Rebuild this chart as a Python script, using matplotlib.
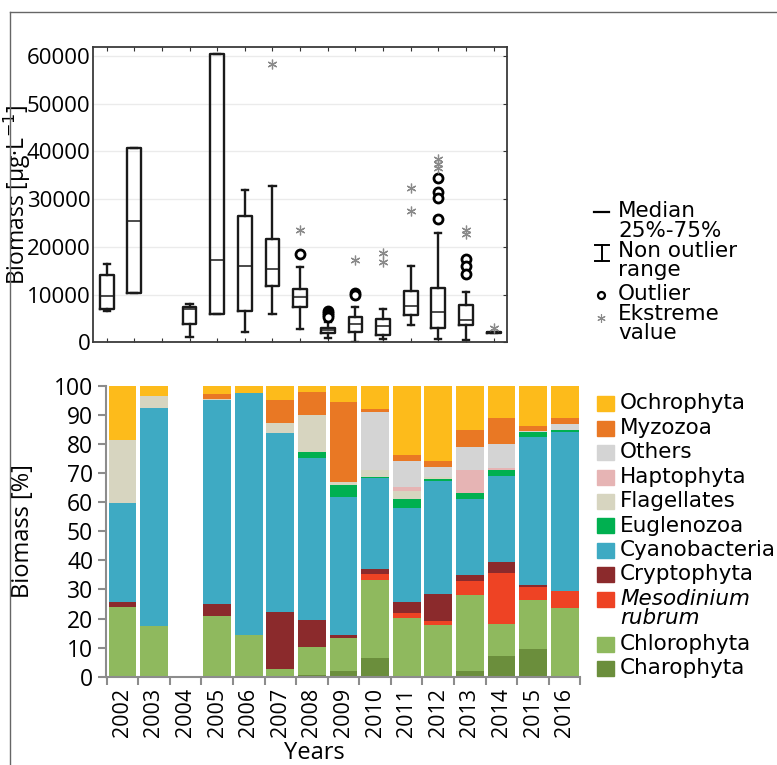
import matplotlib
matplotlib.use("Agg")
import numpy as np
from matplotlib import pyplot as plt
from matplotlib.lines import Line2D
from matplotlib.patches import Rectangle

plt.rcParams["font.family"] = ["Open Sans", "DejaVu Sans"]

W, H = 777, 765
FS = 17


def px(x, y):
    # pixel position (from top-left) -> figure fraction
    return x / W, 1 - y / H


years = [str(y) for y in range(2002, 2017)]

# %% box plot data, biomass in ug/L (None = no sampling)
box_q1 = [6900, 10300, None, 3800, 5900, 6600, 11800, 7500, 1900, 2100, 1500, 5700, 3100, 3600, 1900]
box_med = [9800, 25500, None, 7000, 17200, 16000, 15300, 9400, 2600, 3800, 3400, 7600, 6400, 4700, 2000]
box_q3 = [14200, 40700, None, 7500, 60300, 26500, 21600, 11100, 3100, 5200, 4900, 10700, 11400, 7800, 2100]
box_lo = [6600, 10300, None, 1200, 5900, 2100, 5900, 2700, 1000, 100, 600, 3600, 600, 500, 1900]
box_hi = [16400, 40700, None, 8000, 60300, 31900, 32700, 15800, 4300, 7500, 7000, 16000, 22800, 10500, 2100]
outliers = [[], [], [], [], [], [], [], [18500], [6500, 6100, 5700, 5300], [10300, 9900], [], [],
            [34300, 31500, 30300, 25800], [17400, 16000, 14400], []]
extremes = [[], [], [], [], [], [], [58300], [23500], [], [17200], [18700, 16800], [32400, 27500],
            [38400, 37400, 36400], [23500, 22600], [2900]]

# %% stacked composition data [%], bottom to top
groups = ["Charophyta", "Chlorophyta", "Mesodinium\nrubrum", "Cryptophyta", "Cyanobacteria", "Euglenozoa",
          "Flagellates", "Haptophyta", "Others", "Myzozoa", "Ochrophyta"]
colors = ["#6b8e3c", "#8fb95e", "#ee4324", "#8b2a2c", "#3eaac3", "#00b050",
          "#d7d5c0", "#e6b4b4", "#d4d4d4", "#e97824", "#fdbb1b"]
charophyta = [0, 0, 0, 0, 0, 0, 0.6, 1.9, 6.5, 0, 0, 1.9, 7.1, 9.4, 0]
chlorophyta = [24.0, 17.4, 0, 20.8, 14.2, 2.5, 9.7, 11.3, 26.7, 20.3, 17.8, 26.2, 10.9, 16.9, 23.7]
mesodinium = [0, 0, 0, 0, 0, 0, 0, 0, 2.1, 1.7, 1.3, 4.9, 17.5, 4.6, 5.7]
cryptophyta = [1.8, 0, 0, 4.1, 0, 19.6, 9.2, 1.1, 1.6, 3.8, 9.3, 2.1, 3.8, 0.6, 0]
cyanobacteria = [33.8, 75.0, 0, 70.2, 83.2, 61.5, 55.5, 47.6, 31.3, 32.3, 38.8, 26.0, 29.7, 51.0, 54.8]
euglenozoa = [0, 0, 0, 0, 0, 0, 2.3, 4.0, 0.3, 2.8, 0.8, 1.9, 2.2, 1.5, 0.6]
flagellates = [21.7, 4.2, 0, 0.5, 0, 3.5, 12.8, 0.9, 2.7, 3.0, 0.5, 0, 0, 0, 0]
haptophyta = [0, 0, 0, 0, 0, 0, 0, 0, 0, 1.2, 0, 8.0, 0.5, 0, 0]
others = [0, 0, 0, 0, 0, 0, 0, 0, 19.9, 9.1, 3.7, 8.0, 8.1, 0.4, 1.9]
myzozoa = [0, 0, 0, 1.4, 0, 8.0, 7.6, 27.7, 0.9, 2.0, 2.0, 5.8, 9.2, 1.9, 2.3]
ochrophyta = [18.7, 3.4, 0, 3.0, 2.6, 4.9, 2.3, 5.5, 8.0, 23.8, 25.8, 15.2, 11.0, 13.7, 11.0]
shares = [charophyta, chlorophyta, mesodinium, cryptophyta, cyanobacteria, euglenozoa,
          flagellates, haptophyta, others, myzozoa, ochrophyta]

fig = plt.figure(figsize=(W / 100, H / 100), dpi=100)

# %% top panel: box plots
ax = fig.add_axes([0.1201, 0.5525, 0.532, 0.3865])
x = np.arange(len(years))
stats, pos = [], []
for i in range(len(years)):
    if box_med[i] is None:
        continue
    stats.append(dict(med=box_med[i], q1=box_q1[i], q3=box_q3[i], whislo=box_lo[i], whishi=box_hi[i], fliers=[]))
    pos.append(x[i])
line_kw = dict(color="#1a1a1a", linewidth=1.7)
ax.bxp(stats, positions=pos, widths=0.5, capwidths=0.22, showfliers=False,
       boxprops=line_kw, whiskerprops=line_kw, capprops=line_kw,
       medianprops=dict(color="#1a1a1a", linewidth=1.1))
for i in range(len(years)):
    if outliers[i]:
        ax.plot([x[i]] * len(outliers[i]), outliers[i], "o", mfc="white", mec="black", ms=6.5, mew=2, zorder=3)
    if extremes[i]:
        ax.plot([x[i]] * len(extremes[i]), extremes[i], ls="none", marker=(6, 2, 0), color="#8a8a8a",
                ms=7, mew=0.9, zorder=3)

ax.set_xlim(-0.48, 14.47)
ax.set_ylim(0, 61900)
ax.set_yticks(np.arange(0, 60001, 10000))
ax.set_xticks(x)
ax.set_xticklabels([])
ax.grid(axis="y", color="#ebebeb", linewidth=1)
ax.set_axisbelow(True)
ax.tick_params(axis="x", direction="in", length=3, top=True, bottom=True, color="#333")
ax.tick_params(axis="y", direction="in", length=3, left=False, right=True, pad=2, labelsize=16, color="#333")
for s in ax.spines.values():
    s.set_color("#3a3a3a")
    s.set_linewidth(1.3)
ax.set_ylabel(r"Biomass [μg·L$^{-1}$]", fontsize=16.5)
ax.yaxis.set_label_coords(-0.146, 0.5)

# legend for box symbols
leg_font = dict(family="DejaVu Sans", fontsize=15.5, va="center", ha="left")
for txt, yy in [("Median", 211), ("25%-75%", 231), ("Non outlier", 251), ("range", 270),
                ("Outlier", 294), ("Ekstreme", 314), ("value", 333)]:
    fig.text(*px(618, yy), txt, **leg_font)
fig.add_artist(Line2D([px(594, 0)[0], px(609, 0)[0]], [px(0, 212)[1]] * 2, color="black", lw=1.6))
fig.add_artist(Line2D([px(602, 0)[0]] * 2, [px(0, 245)[1], px(0, 261)[1]], color="black", lw=1.4))
for yy in (245, 261):
    fig.add_artist(Line2D([px(595, 0)[0], px(609, 0)[0]], [px(0, yy)[1]] * 2, color="black", lw=1.4))
fig.add_artist(Line2D([px(601, 0)[0]], [px(0, 295)[1]], ls="none", marker="o", mfc="white", mec="black",
                      ms=5, mew=1.6))
fig.add_artist(Line2D([px(601, 0)[0]], [px(0, 318)[1]], ls="none", marker=(6, 2, 0), color="#8a8a8a",
                      ms=6, mew=0.8))

# %% bottom panel: stacked bars
ax2 = fig.add_axes([0.136, 0.1154, 0.611, 0.3804])
bottom = np.zeros(len(years))
for vals, col in zip(shares, colors):
    ax2.bar(x, vals, bottom=bottom, width=0.88, color=col, edgecolor="none")
    bottom += np.array(vals)

ax2.set_xlim(-0.53, 14.47)
ax2.set_ylim(0, 100)
ax2.set_yticks(np.arange(0, 101, 10))
ax2.set_xticks(x)
ax2.set_xticklabels(years, rotation=90)
ax2.set_xticks(np.arange(-0.5, 15, 1), minor=True)
ax2.tick_params(axis="x", which="major", length=0, pad=8, labelsize=15.5)
ax2.tick_params(axis="x", which="minor", length=6, width=1.5, color="#8c8c8c")
ax2.tick_params(axis="y", length=6, width=1.5, color="#8c8c8c", pad=3, labelsize=16.5)
for s in ["top", "right"]:
    ax2.spines[s].set_visible(False)
for s in ["left", "bottom"]:
    ax2.spines[s].set_color("#8c8c8c")
    ax2.spines[s].set_linewidth(1.5)
ax2.set_ylabel("Biomass [%]", fontsize=FS)
ax2.yaxis.set_label_coords(-0.149, 0.5)
ax2.set_xlabel("Years", fontsize=FS)
ax2.xaxis.set_label_coords(0.44, -0.22)

# legend for groups, listed top to bottom
leg_y = [403, 428, 452.5, 477, 501, 525.5, 550, 574.5, 599, 644, 668]
for name, col, yy in zip(groups[::-1], colors[::-1], leg_y):
    fx, fy = px(596.5, yy + 7.5)
    fig.add_artist(Rectangle((fx, fy), 17 / W, 15 / H, color=col, transform=fig.transFigure))
    if name.startswith("Meso"):
        fig.text(*px(620, yy), "Mesodinium", style="italic", **leg_font)
        fig.text(*px(620, yy + 19), "rubrum", style="italic", **leg_font)
    else:
        fig.text(*px(620, yy), name, **leg_font)

# frame around the figure
fig.add_artist(Line2D([px(10, 0)[0]] * 2, [px(0, 12)[1], 0], color="#666", lw=1))
fig.add_artist(Line2D([px(10, 0)[0], 1], [px(0, 12)[1]] * 2, color="#666", lw=1))

fig.savefig("out.png", dpi=100)
